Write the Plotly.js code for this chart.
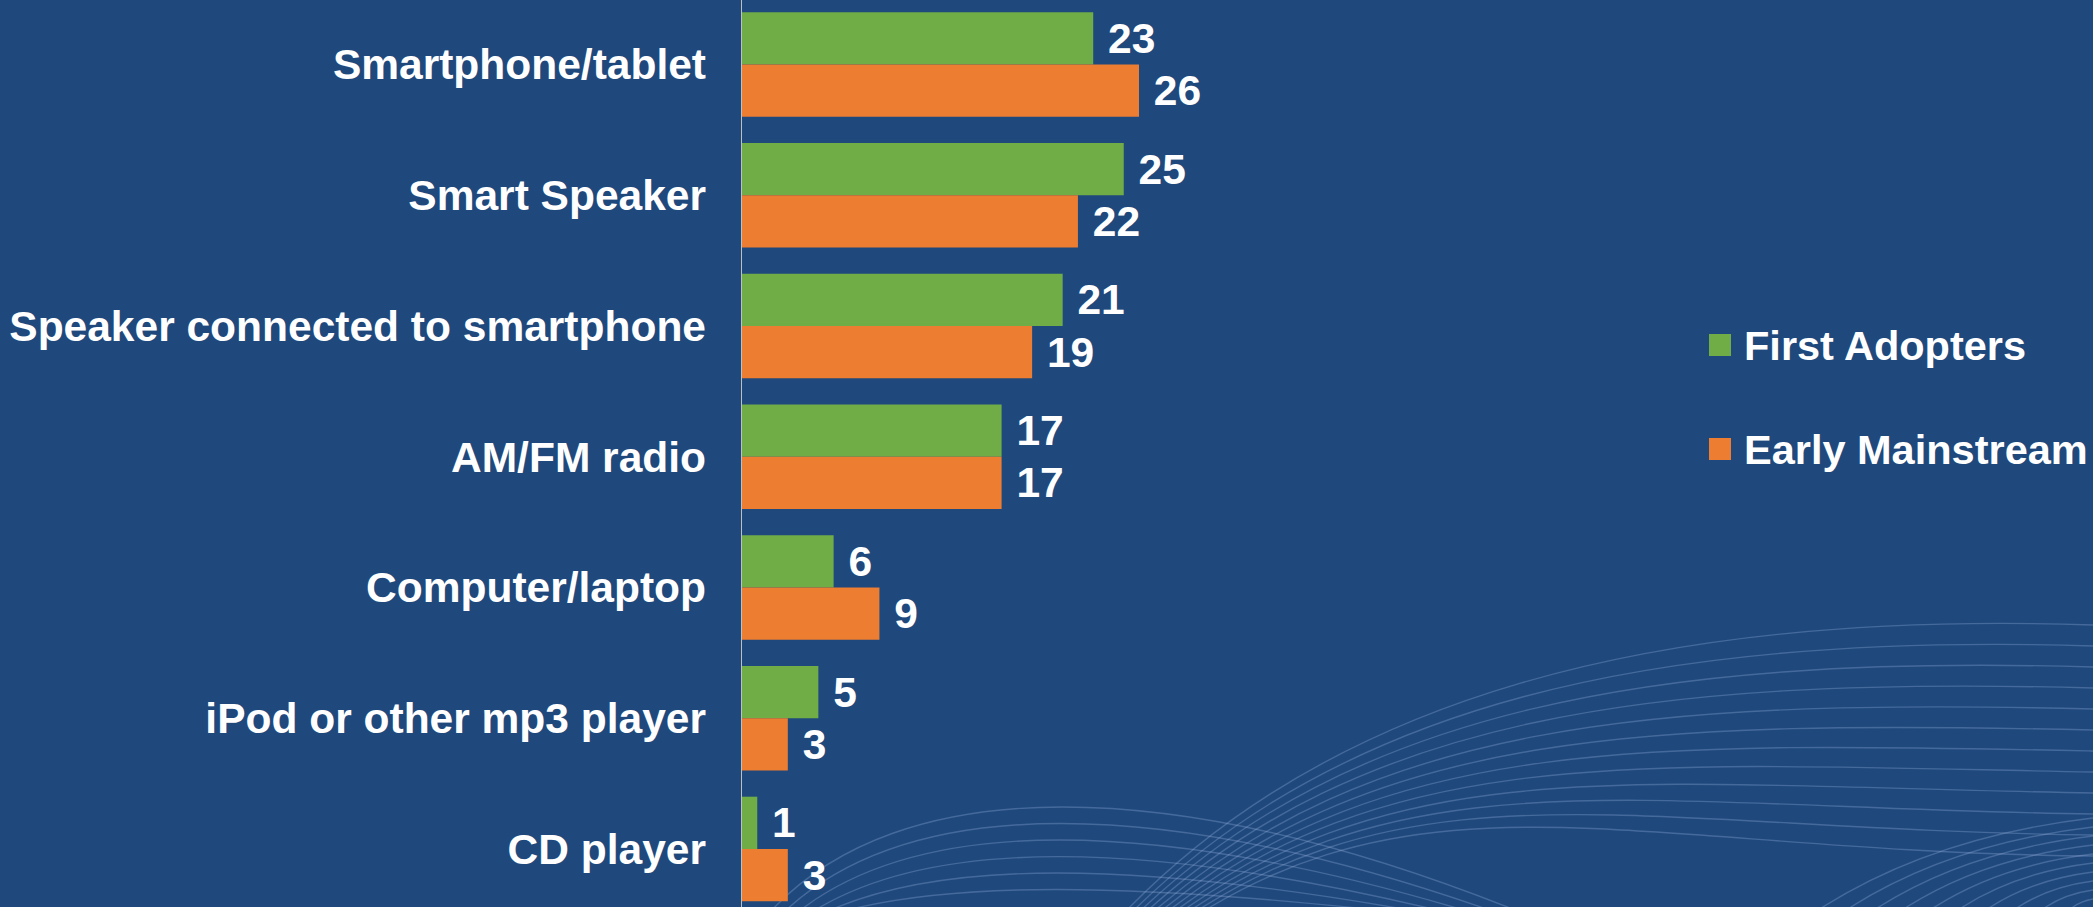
<!DOCTYPE html>
<html>
<head>
<meta charset="utf-8">
<script src="https://cdn.plot.ly/plotly-3.0.1.min.js"></script>
<style>
  html, body { margin: 0; padding: 0; background: #1F497D; }
  #chart { width: 2093px; height: 907px; }
</style>
</head>
<body>
<div id="chart"></div>
<script>
// ---- Data ----
const categories = [
  'Smartphone/tablet',
  'Smart Speaker',
  'Speaker connected to smartphone',
  'AM/FM radio',
  'Computer/laptop',
  'iPod or other mp3 player',
  'CD player'
];
const firstAdopters = [23, 25, 21, 17, 6, 5, 1];
const earlyMainstream = [26, 22, 19, 17, 9, 3, 3];
const seriesNames = ['First Adopters', 'Early Mainstream'];
const seriesColors = ['#70AD47', '#ED7D31'];

// ---- Layout geometry ----
const W = 2093, H = 907;
const plotLeft = 742;
const plotW = W - plotLeft;
const pxPerUnit = 15.27;
const FONT = 'Liberation Sans, Arial, sans-serif';
const BG = '#1F497D';

function px2x(px) { return (px - plotLeft) / plotW; }
function py2y(py) { return 1 - py / H; }

const traces = [firstAdopters, earlyMainstream].map((vals, i) => ({
  type: 'bar',
  orientation: 'h',
  name: seriesNames[i],
  x: vals,
  y: categories,
  marker: { color: seriesColors[i], line: { width: 0 } },
  text: vals.map(v => '\u00A0' + v),
  texttemplate: '%{text}',
  textposition: 'outside',
  constraintext: 'none',
  cliponaxis: false,
  textfont: { family: FONT, size: 42.5, color: '#FFFFFF', weight: 'bold' },
  hoverinfo: 'skip',
  showlegend: false
}));

// decorative background waves (style only)
const shapes = [];
const waveStyle = { color: 'rgba(170,190,235,0.28)', width: 1.4 };
function P(px, py) { return px2x(px).toFixed(4) + ',' + py2y(py).toFixed(4); }
for (let i = 0; i < 12; i++) {
  shapes.push({
    type: 'path', xref: 'paper', yref: 'paper', layer: 'below',
    path: 'M' + P(1125 + 7 * i, 912) + ' C' + P(1330 + 10 * i, 700 + 6 * i) + ' ' + P(1650, 610 + 22 * i) + ' ' + P(2093, 625 + 21 * i),
    line: waveStyle
  });
}
for (let i = 0; i < 6; i++) {
  shapes.push({
    type: 'path', xref: 'paper', yref: 'paper', layer: 'below',
    path: 'M' + P(770 + 14 * i, 912) + ' C' + P(900 + 10 * i, 772 + 22 * i) + ' ' + P(1170 - 10 * i, 772 + 22 * i) + ' ' + P(1520 - 25 * i, 912),
    line: waveStyle
  });
}
for (let i = 0; i < 10; i++) {
  const ys = 818 + 9 * i, xe = 1815 + 28 * i;
  shapes.push({
    type: 'path', xref: 'paper', yref: 'paper', layer: 'below',
    path: 'M' + P(2093, ys) + ' C' + P(2093 - (2093 - xe) * 0.35, ys + (912 - ys) * 0.12) + ' ' + P(2093 - (2093 - xe) * 0.7, ys + (912 - ys) * 0.42) + ' ' + P(xe, 912),
    line: waveStyle
  });
}

// custom legend (large swatches)
const legendTextX = 1742;
const legendSwatchX0 = 1709, legendSwatchSize = 22;
const legendCentersY = [345, 449];
const annotations = [];
seriesNames.forEach((nm, i) => {
  const cy = legendCentersY[i];
  shapes.push({
    type: 'rect', xref: 'paper', yref: 'paper',
    x0: px2x(legendSwatchX0), x1: px2x(legendSwatchX0 + legendSwatchSize),
    y0: py2y(cy + legendSwatchSize / 2), y1: py2y(cy - legendSwatchSize / 2),
    fillcolor: seriesColors[i], line: { width: 0 }
  });
  annotations.push({
    xref: 'paper', yref: 'paper', x: px2x(legendTextX), y: py2y(cy),
    xanchor: 'left', yanchor: 'middle', showarrow: false,
    text: nm,
    font: { family: FONT, size: 41.5, color: '#FFFFFF', weight: 'bold' }
  });
});

// y-range chosen so categories are spaced ~130.75 px with first at 64.5 px
const catStep = 130.75, firstCenter = 64.5;
const yTop = 0 - firstCenter / catStep;
const yBottom = yTop + H / catStep;

const layout = {
  width: W, height: H,
  margin: { l: plotLeft, r: 0, t: 0, b: 0, pad: 0 },
  paper_bgcolor: BG,
  plot_bgcolor: 'rgba(0,0,0,0)',
  barmode: 'group',
  bargap: 0.2,
  bargroupgap: 0,
  showlegend: false,
  xaxis: {
    range: [0, plotW / pxPerUnit],
    showgrid: false, zeroline: false, showline: false,
    showticklabels: false, ticks: '', fixedrange: true
  },
  yaxis: {
    type: 'category',
    categoryorder: 'array',
    categoryarray: categories,
    range: [yBottom, yTop],
    showgrid: false, zeroline: false,
    showline: true, linecolor: '#BFBFBF', linewidth: 1.5,
    ticks: '', ticklabelstandoff: 26,
    tickfont: { family: FONT, size: 42.5, color: '#FFFFFF', weight: 'bold' },
    automargin: false, fixedrange: true
  },
  shapes: shapes,
  annotations: annotations
};

Plotly.newPlot('chart', traces, layout, { staticPlot: true, displayModeBar: false });
</script>
</body>
</html>
